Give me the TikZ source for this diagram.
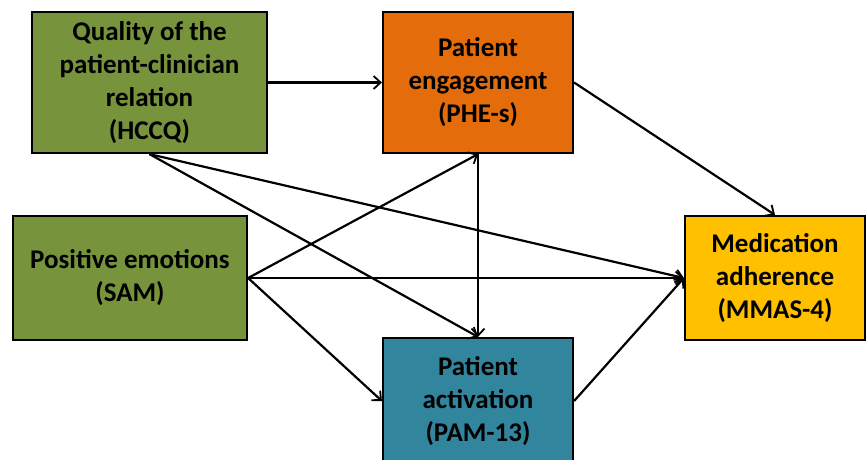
\documentclass[tikz,border=0pt]{standalone}
\usepackage{fontspec}
\setmainfont{Carlito}
\usepackage{tikz}
\usetikzlibrary{calc}
\usetikzlibrary{shapes,arrows,arrows.meta,positioning}

\definecolor{boxgreen}{HTML}{77933C}
\definecolor{boxorange}{HTML}{E46C0A}
\definecolor{boxteal}{HTML}{31859C}
\definecolor{boxyellow}{HTML}{FFC000}

\begin{document}
\begin{tikzpicture}[x=1pt, y=-1pt]
    % Define styles
    \tikzstyle{factor} = [rectangle, draw=black, line width=2.2pt, align=center, font=\fontsize{27}{33}\selectfont\bfseries, inner sep=0pt]
    \tikzstyle{arrow} = [-{Straight Barb[length=7pt, width=13pt, line width=1.8pt]}, line width=2.2pt, black]

    \useasboundingbox (0,0) rectangle (866,459);

    % Draw the measures
    \node[factor, fill=boxgreen, minimum width=235pt, minimum height=141pt] (hccq) at (149.5,82.5) {Quality of the\\patient-clinician\\relation\\(HCCQ)};
    \node[factor, fill=boxorange, minimum width=190pt, minimum height=141pt] (phe) at (478,82.5) {Patient\\engagement\\(PHE-s)};
    \node[factor, fill=boxgreen, minimum width=234pt, minimum height=124pt] (sam) at (130,278) {Positive emotions\\(SAM)};
    \node[factor, fill=boxyellow, minimum width=180pt, minimum height=124pt] (mmas) at (775,278) {Medication\\adherence\\(MMAS-4)};
    \node[factor, fill=boxteal, minimum width=190pt, minimum height=126pt] (pam) at (478,401) {Patient\\activation\\(PAM-13)};

    % Draw the paths
    \draw[arrow] (hccq.east) -- (phe.west);
    \draw[arrow] (phe.east) -- (mmas.north);
    \draw[arrow] (hccq.south) -- (pam.north);
    \draw[arrow] (hccq.south) -- (mmas.west);
    \draw[arrow] (sam.east) -- (phe.south);
    \draw[arrow] (sam.east) -- (mmas.west);
    \draw[arrow] (sam.east) -- (pam.west);
    \draw[arrow] (phe.south) -- (pam.north);
    \draw[arrow] (pam.east) -- (mmas.west);
\end{tikzpicture}
\end{document}
